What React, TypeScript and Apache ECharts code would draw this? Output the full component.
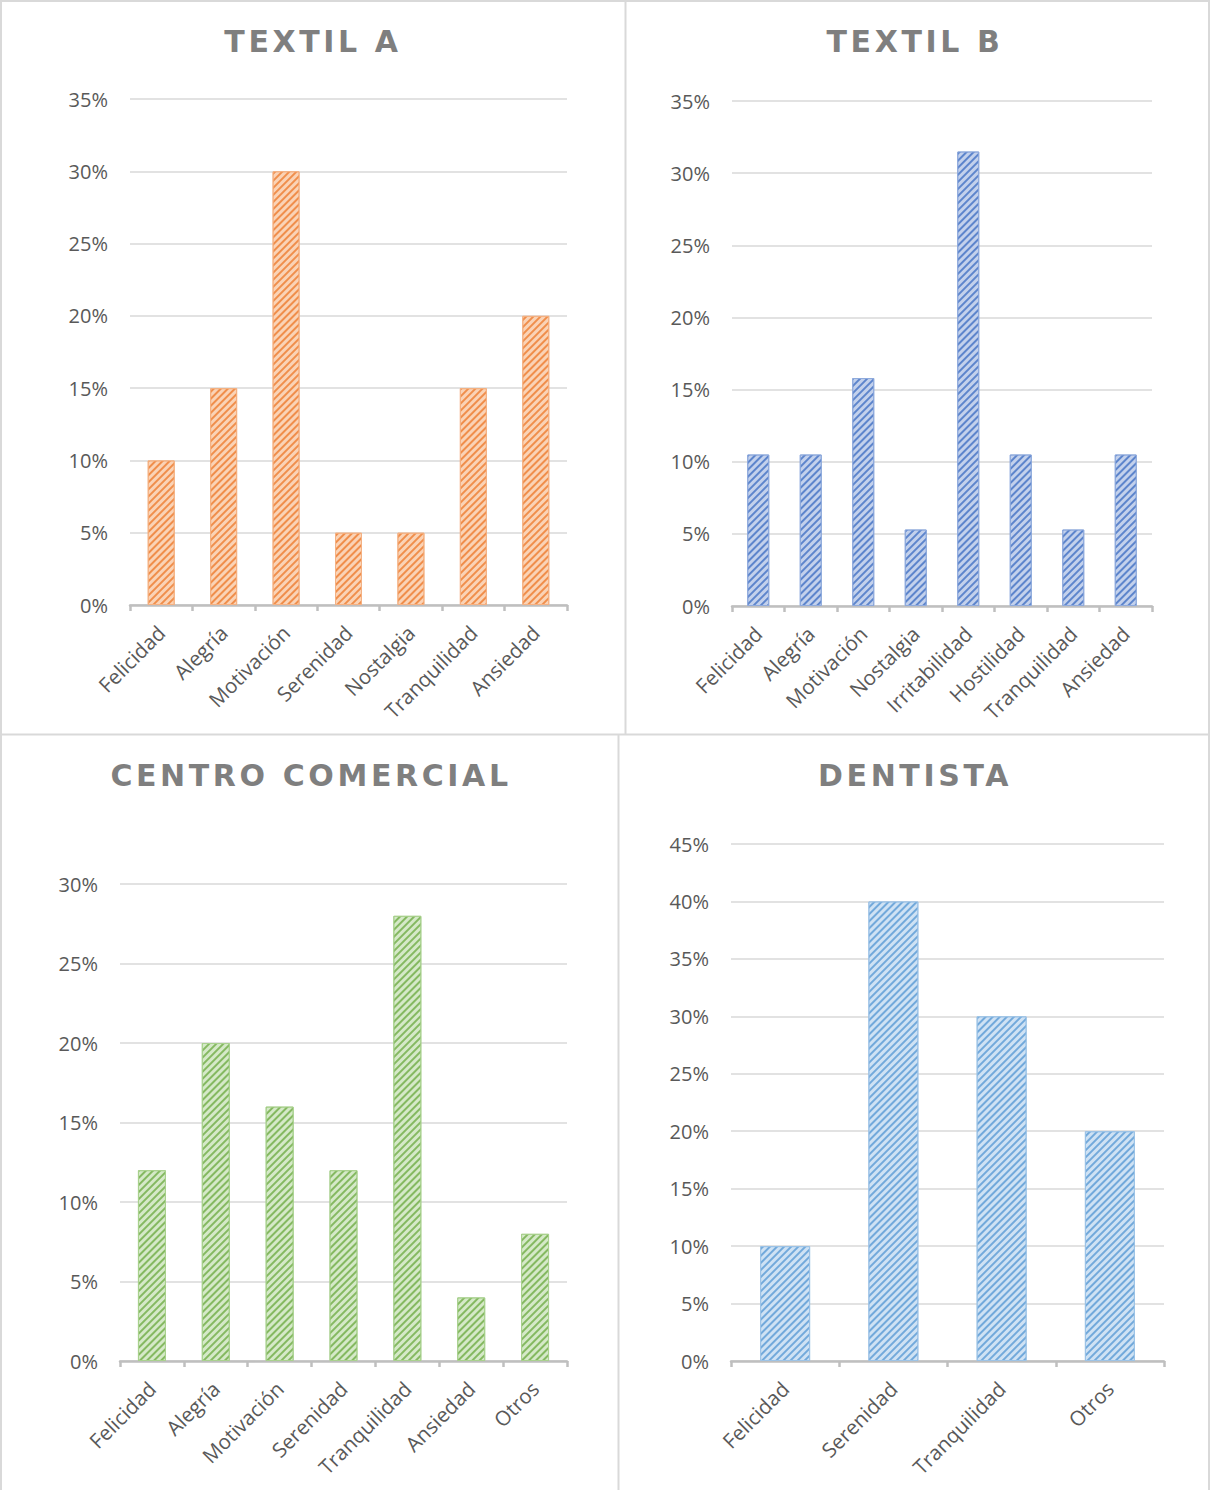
import React, { useEffect, useRef } from 'react';
import * as echarts from 'echarts';

// ---- data ----
const titles = ['TEXTIL A', 'TEXTIL B', 'CENTRO COMERCIAL', 'DENTISTA'];

const catA = ['Felicidad', 'Alegría', 'Motivación', 'Serenidad', 'Nostalgia', 'Tranquilidad', 'Ansiedad'];
const valA = [10, 15, 30, 5, 5, 15, 20];

const catB = ['Felicidad', 'Alegría', 'Motivación', 'Nostalgia', 'Irritabilidad', 'Hostilidad', 'Tranquilidad', 'Ansiedad'];
const valB = [10.5, 10.5, 15.8, 5.3, 31.5, 10.5, 5.3, 10.5];

const catC = ['Felicidad', 'Alegría', 'Motivación', 'Serenidad', 'Tranquilidad', 'Ansiedad', 'Otros'];
const valC = [12, 20, 16, 12, 28, 4, 8];

const catD = ['Felicidad', 'Serenidad', 'Tranquilidad', 'Otros'];
const valD = [10, 40, 30, 20];

const yMax = [35, 35, 30, 45];
const yStep = 5;

// ---- layout / style ----
const grids = [
  { left: 130, top: 99, width: 437, height: 506 },
  { left: 732, top: 101, width: 420, height: 505 },
  { left: 120, top: 884, width: 447, height: 477 },
  { left: 731, top: 844, width: 433, height: 517 },
];
const titlePos = [
  { x: 313, y: 43 },
  { x: 915, y: 43 },
  { x: 311, y: 777 },
  { x: 915, y: 777 },
];
const barWidths = [27, 22, 28, 50];
const palettes = [
  { fill: '#fad3b6', stripe: 'rgba(237,125,49,0.8)', border: '#f4b183' },
  { fill: '#c3d1ec', stripe: 'rgba(68,114,196,0.8)', border: '#8faadc' },
  { fill: '#d5e9c8', stripe: 'rgba(112,173,71,0.8)', border: '#a9d18e' },
  { fill: '#cfe2f4', stripe: 'rgba(91,155,213,0.8)', border: '#9dc3e6' },
];

const cats = [catA, catB, catC, catD];
const vals = [valA, valB, valC, valD];

const LABEL_FONT = 'Open Sans';
const TITLE_FONT = 'DejaVu Sans';

function applyLetterSpacing(el: HTMLDivElement | null) {
  if (!el) return;
  const texts = el.querySelectorAll('text');
  texts.forEach((t) => {
    if (titles.includes((t.textContent || '').trim())) {
      (t as SVGTextElement).style.letterSpacing = '3.6px';
    }
  });
}

export default function App() {
  const ref = useRef<HTMLDivElement>(null);

  useEffect(() => {
    if (!ref.current) return;
    const chart = echarts.init(ref.current, undefined, { renderer: 'svg' });

    const borderColor = '#d9d9d9';
    const lineSeg = (x1: number, y1: number, x2: number, y2: number) => ({
      type: 'line',
      silent: true,
      shape: { x1, y1, x2, y2 },
      style: { stroke: borderColor, lineWidth: 2 },
    });

    const option: any = {
      animation: false,
      backgroundColor: '#ffffff',
      title: titles.map((t, i) => ({
        text: t,
        left: titlePos[i].x,
        top: titlePos[i].y - 17,
        textAlign: 'center',
        padding: 0,
        textStyle: {
          fontFamily: TITLE_FONT,
          fontWeight: 'bold',
          fontSize: 30,
          color: '#7f7f7f',
        },
      })),
      graphic: [
        lineSeg(0, 1, 1210, 1),
        lineSeg(1, 0, 1, 1490),
        lineSeg(625.5, 0, 625.5, 735),
        lineSeg(0, 734.5, 1210, 734.5),
        lineSeg(618.5, 735, 618.5, 1490),
        lineSeg(1209, 0, 1209, 1490),
      ],
      grid: grids.map((g) => ({ ...g, containLabel: false })),
      xAxis: cats.map((c, i) => ({
        type: 'category',
        gridIndex: i,
        data: c,
        axisLine: { show: true, lineStyle: { color: '#bfbfbf', width: 2.5 } },
        axisTick: { show: true, length: 6, lineStyle: { color: '#bfbfbf', width: 2.5 } },
        axisLabel: {
          interval: 0,
          rotate: 45,
          margin: 24,
          color: '#595959',
          fontSize: 20.5,
          fontFamily: LABEL_FONT,
        },
        splitLine: { show: false },
      })),
      yAxis: yMax.map((m, i) => ({
        type: 'value',
        gridIndex: i,
        min: 0,
        max: m,
        interval: yStep,
        axisLine: { show: false },
        axisTick: { show: false },
        axisLabel: {
          formatter: '{value}%',
          margin: 22,
          color: '#595959',
          fontSize: 20,
          fontFamily: LABEL_FONT,
        },
        splitLine: { show: true, lineStyle: { color: '#d9d9d9', width: 1.5 } },
      })),
      series: vals.map((v, i) => ({
        type: 'bar',
        xAxisIndex: i,
        yAxisIndex: i,
        data: v,
        barWidth: barWidths[i],
        itemStyle: {
          color: palettes[i].fill,
          borderColor: palettes[i].border,
          borderWidth: 1,
          decal: {
            symbol: 'rect',
            symbolSize: 1,
            color: palettes[i].stripe,
            dashArrayX: [1, 0],
            dashArrayY: [1.2, 3],
            rotation: -Math.PI / 4,
          },
        },
        emphasis: { disabled: true },
      })),
    };

    chart.setOption(option);
    applyLetterSpacing(ref.current);
    chart.on('finished', () => applyLetterSpacing(ref.current));

    return () => {
      chart.dispose();
    };
  }, []);

  return (
    <div
      ref={ref}
      style={{ position: 'absolute', left: 0, top: 0, width: 1210, height: 1490, background: '#fff' }}
    />
  );
}
